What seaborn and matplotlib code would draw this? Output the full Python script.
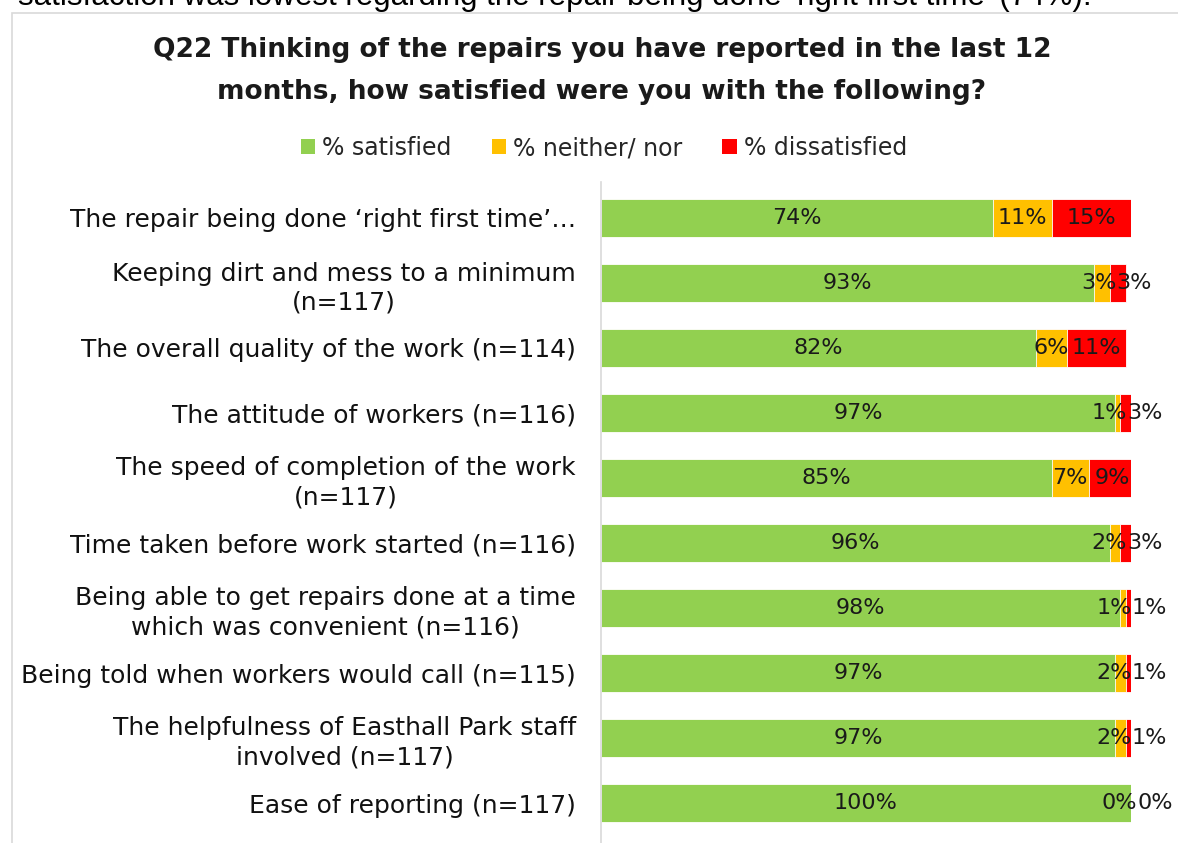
import matplotlib
matplotlib.use("Agg")
import matplotlib.pyplot as plt
from matplotlib.patches import Rectangle
import numpy as np
import pandas as pd
import seaborn as sns

# Survey items (top to bottom) and response shares in percent
items = [
    "The repair being done \u2018right first time\u2019\u2026",
    "Keeping dirt and mess to a minimum\n(n=117)",
    "The overall quality of the work (n=114)",
    "The attitude of workers (n=116)",
    "The speed of completion of the work\n(n=117)",
    "Time taken before work started (n=116)",
    "Being able to get repairs done at a time\nwhich was convenient (n=116)",
    "Being told when workers would call (n=115)",
    "The helpfulness of Easthall Park staff\ninvolved (n=117)",
    "Ease of reporting (n=117)",
]
satisfied = [74, 93, 82, 97, 85, 96, 98, 97, 97, 100]
neither = [11, 3, 6, 1, 7, 2, 1, 2, 2, 0]
dissatisfied = [15, 3, 11, 3, 9, 3, 1, 1, 1, 0]

series_names = ["% satisfied", "% neither/ nor", "% dissatisfied"]
series_colors = ["#92D050", "#FFC000", "#FF0000"]

title = ("Q22 Thinking of the repairs you have reported in the last 12\n"
         "months, how satisfied were you with the following?")
intro = ("satisfaction was lowest regarding the repair being done "
         "\u2018right first time\u2019 (74%).")

sns.set_theme(style="white")
plt.rcParams["font.family"] = ["DejaVu Sans"]

W, H = 1178, 843
fig = plt.figure(figsize=(W / 100, H / 100), dpi=100)

# panel frame
fig.patches.append(Rectangle((12 / W, -0.1), 1.1, 1 - 13 / H + 0.1,
                             transform=fig.transFigure, fill=False,
                             edgecolor="#d9d9d9", linewidth=1.2))

# body text line running off the top edge
fig.text(18 / W, 1 - 5 / H, intro, ha="left", va="baseline",
         fontsize=22.5, color="black", family="Liberation Sans")

ax = fig.add_axes([601 / W, 1 - 835.5 / H, 530 / W, 650 / H])

df = pd.DataFrame({
    "item": items,
    "sat": satisfied,
    "nei": neither,
    "dis": dissatisfied,
})
df["c1"] = df["sat"]
df["c2"] = df["sat"] + df["nei"]
df["c3"] = df["sat"] + df["nei"] + df["dis"]

# stacked layers drawn back to front as cumulative totals
for col, color in zip(["c3", "c2", "c1"], series_colors[::-1]):
    sns.barplot(data=df, y="item", x=col, orient="h", color=color,
                width=0.57, ax=ax, edgecolor="white", linewidth=0.6,
                saturation=1)

# value labels: centered in each segment; narrow trailing segments get
# their two labels set side by side around the yellow/red junction
lab_kw = dict(va="center", fontsize=16, color="#1a1a1a", clip_on=False)
for i, row in df.iterrows():
    ax.text(row["sat"] / 2, i, f"{row['sat']}%", ha="center", **lab_kw)
    if row["nei"] < 5 or row["dis"] < 5:
        meet = row["c2"] + 1.2
        ax.text(meet, i, f"{row['nei']}%", ha="right", **lab_kw)
        ax.text(meet, i, f"{row['dis']}%", ha="left", **lab_kw)
    else:
        ax.text(row["c1"] + row["nei"] / 2, i, f"{row['nei']}%",
                ha="center", **lab_kw)
        ax.text(row["c2"] + row["dis"] / 2, i, f"{row['dis']}%",
                ha="center", **lab_kw)

ax.set_xlim(0, 100)
ax.set_ylim(len(items) - 0.5, -0.5)
ax.set_xlabel("")
ax.set_ylabel("")
ax.set_xticks([])
ax.tick_params(axis="y", length=0, pad=18)
for lbl in ax.get_yticklabels():
    lbl.set_fontsize(18)
    lbl.set_multialignment("center")
    lbl.set_color("#111111")
    lbl.set_linespacing(1.25)
for side in ["top", "right", "bottom"]:
    ax.spines[side].set_visible(False)
ax.spines["left"].set_color("#d9d9d9")
ax.spines["left"].set_linewidth(1.2)
ax.spines["left"].set_bounds(len(items) - 0.5 + 0.2, -0.5 - 0.05)

fig.text(602 / W, 1 - 71 / H, title, ha="center", va="center",
         fontsize=19, fontweight="bold", color="#1a1a1a", linespacing=1.8)

# legend row
handles = [Rectangle((0, 0), 1, 1, facecolor=c, edgecolor="none")
           for c in series_colors]
fig.legend(handles, series_names, loc="center", ncol=3,
           bbox_to_anchor=(604 / W, 1 - 148 / H), frameon=False,
           fontsize=17, handlelength=0.6, handleheight=0.6,
           handletextpad=0.3, columnspacing=1.7)

fig.savefig("out.png", dpi=100)
